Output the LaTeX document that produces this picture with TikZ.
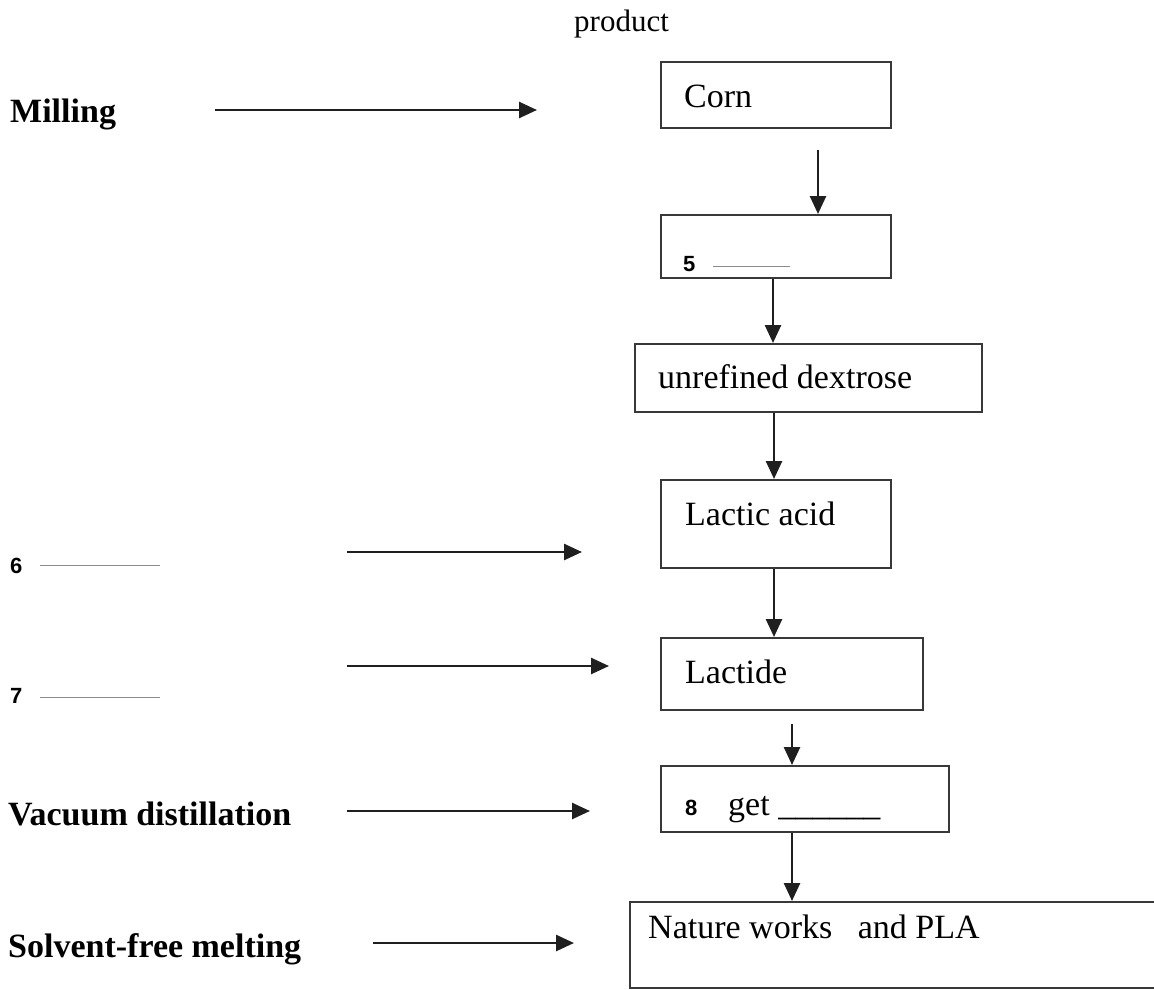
\documentclass[tikz,border=0pt]{standalone}
\usepackage{fontspec}
\setmainfont{Liberation Serif}
\newfontfamily\numfont{Liberation Sans}
\usetikzlibrary{arrows.meta,positioning}
\tikzset{
  box/.style={draw=black!78, line width=2pt, inner sep=0pt},
  txt/.style={font=\fontsize{34}{40}\selectfont, inner sep=0pt, anchor=base west},
  stage/.style={txt, font=\fontsize{34}{40}\selectfont\bfseries},
  num/.style={txt, font=\fontsize{22}{26}\selectfont\numfont\bfseries},
  arr/.style={-{Triangle[length=18pt,width=16pt]}, line width=2.6pt, draw=black!88},
  blank/.style={draw=black!45, line width=1pt}}

\begin{document}
\begin{tikzpicture}[x=1pt, y=-1pt]
  \useasboundingbox (0,0) rectangle (1154,990);
  % process boxes
  \node[box, minimum width=230pt, minimum height=66pt] (corn) at (776,95) {};
  \node[box, minimum width=230pt, minimum height=63pt] (b5) at (776,246.5) {};
  \node[box, minimum width=347pt, minimum height=68pt] (dex) at (808.5,378) {};
  \node[box, minimum width=230pt, minimum height=88pt] (lac) at (776,524) {};
  \node[box, minimum width=262pt, minimum height=72pt] (lcd) at (792,674) {};
  \node[box, minimum width=288pt, minimum height=66pt] (get) at (805,799) {};
  \node[box, minimum width=545pt, minimum height=86pt] (pla) at (902.5,945) {};
  \node[txt, font=\fontsize{31}{36}\selectfont] (prod) at (574,32) {product};
  \node[txt] (corntx) at (684,107) {Corn};
  \node[num] (n5) at (683,271) {5};
  \node[txt] (dextx) at (658,388) {unrefined dextrose};
  \node[txt] (lactx) at (685,525) {Lactic acid};
  \node[txt] (lcdtx) at (685,683) {Lactide};
  \node[num] (n8) at (685,815) {8};
  \node[txt] (gettx) at (728,815) {get \_\_\_\_\_\_};
  \node[txt] (platx) at (648,938) {Nature works \ \ and PLA};
  \draw[blank] (713,266) -- (790,266);
  \draw[arr, shorten <=21pt] ([xshift=42pt]corn.south) -- ([xshift=42pt]b5.north);
  \draw[arr] ([xshift=-3pt]b5.south) -- ([xshift=-3pt]b5.south |- dex.north);
  \draw[arr] ([xshift=-2pt]lac.north |- dex.south) -- ([xshift=-2pt]lac.north);
  \draw[arr] ([xshift=-2pt]lac.south) -- ([xshift=-2pt]lac.south |- lcd.north);
  \draw[arr, shorten <=13pt] (lcd.south) -- (lcd.south |- get.north);
  \draw[arr] ([xshift=-13pt]get.south) -- ([xshift=-13pt]get.south |- pla.north);
  % steps on the left
  \node[stage] (mill) at (10,122) {Milling};
  \node[num] (n6) at (10,573) {6};
  \node[num] (n7) at (10,703) {7};
  \node[stage] (vac) at (8,825) {Vacuum distillation};
  \node[stage] (melt) at (8,957) {Solvent-free melting};
  \draw[blank] (40,565) -- (160,565);
  \draw[blank] (40,697) -- (160,697);
  \coordinate (mill-a) at (215,110);  \coordinate (mill-b) at (537,110);
  \coordinate (s6-a) at (347,552);    \coordinate (s6-b) at (582,552);
  \coordinate (s7-a) at (347,666);    \coordinate (s7-b) at (609,666);
  \coordinate (vac-a) at (347,811);   \coordinate (vac-b) at (590,811);
  \coordinate (melt-a) at (373,943);  \coordinate (melt-b) at (574,943);
  \draw[arr] (mill-a) -- (mill-b); \draw[arr] (s6-a) -- (s6-b); \draw[arr] (s7-a) -- (s7-b);
  \draw[arr] (vac-a) -- (vac-b); \draw[arr] (melt-a) -- (melt-b);
\end{tikzpicture}
\end{document}
